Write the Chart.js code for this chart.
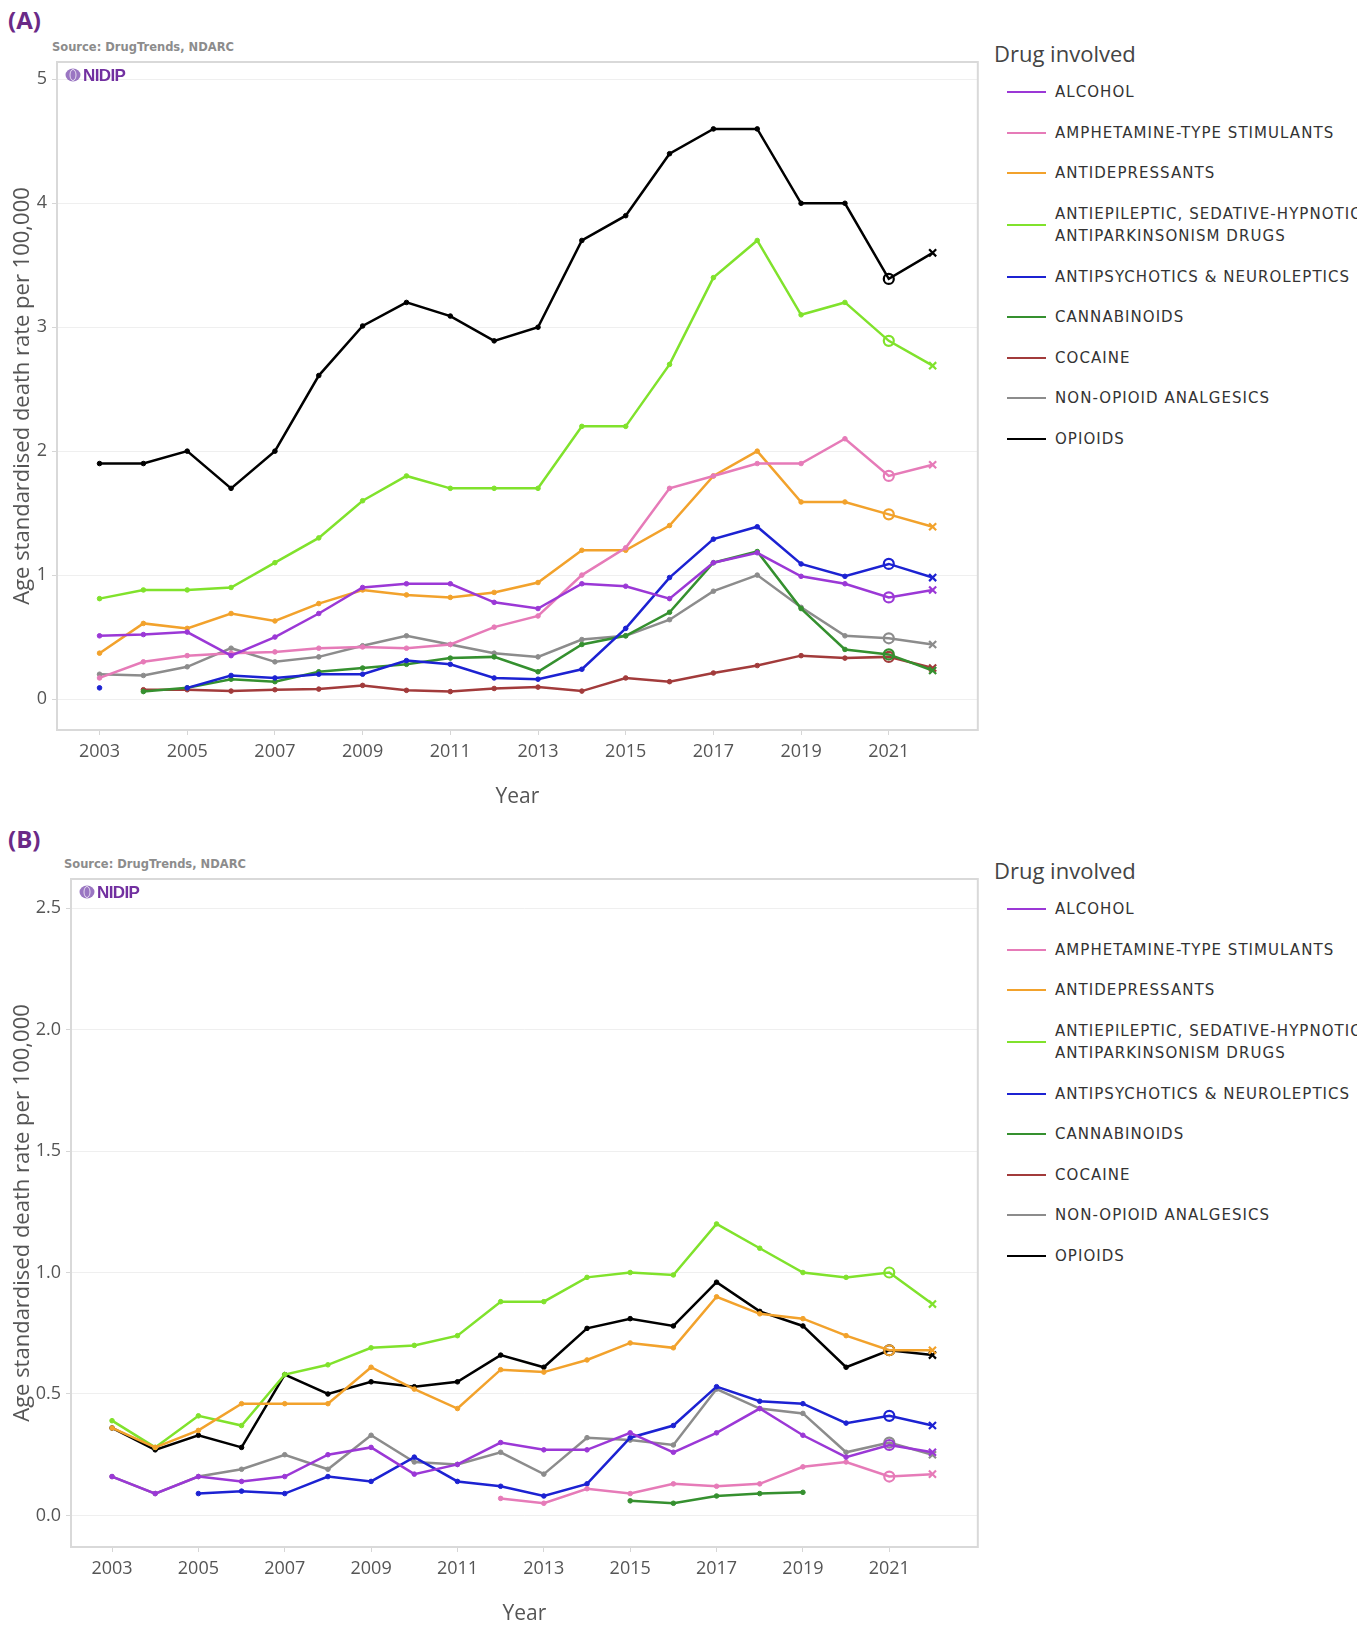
<!DOCTYPE html>
<html>
<head>
<meta charset="utf-8">
<title>Drug-induced deaths by drug involved</title>
<script src="https://cdn.jsdelivr.net/npm/chart.js@4.4.1/dist/chart.umd.min.js"></script>
<style>
  body { margin: 0; background: #fff; width: 1367px; height: 1627px; overflow: hidden; position: relative; }
  .tag { position: absolute; left: 8px; font: bold 24px 'Open Sans', sans-serif; color: #6a2a87; line-height: 30px; }
  .source { position: absolute; font: bold 11.5px 'DejaVu Sans', sans-serif; color: #8c8c8c; line-height: 16px; }
  canvas { position: absolute; left: 0; }
  .legend { position: absolute; left: 994px; width: 363px; overflow: hidden; }
  .legend .title { font: 22px 'Open Sans', sans-serif; color: #444; line-height: 30px; height: 30px; margin-bottom: 4px; }
  .legend .row { display: flex; align-items: center; height: 40.5px; white-space: nowrap; }
  .legend .row.two { height: 63px; }
  .legend .swatch { flex: none; width: 39px; height: 2px; margin-left: 13px; margin-right: 9px; }
  .legend .label { font: 15px 'DejaVu Sans', sans-serif; letter-spacing: 1.05px; color: #333; line-height: 22.5px; }
</style>
</head>
<body>
<div class="tag" style="top:5px">(A)</div>
<div class="source" style="left:52px; top:39px">Source: DrugTrends, NDARC</div>
<canvas id="chartA" width="985" height="810" style="top:0"></canvas>
<div class="legend" id="legendA" style="top:38px"></div>

<div class="tag" style="top:824px">(B)</div>
<div class="source" style="left:64px; top:856px">Source: DrugTrends, NDARC</div>
<canvas id="chartB" width="985" height="810" style="top:817px"></canvas>
<div class="legend" id="legendB" style="top:855px"></div>

<script>
// years and tick labels
const years = [2003, 2004, 2005, 2006, 2007, 2008, 2009, 2010, 2011, 2012,
               2013, 2014, 2015, 2016, 2017, 2018, 2019, 2020, 2021, 2022];
const xTicks = [2003, 2005, 2007, 2009, 2011, 2013, 2015, 2017, 2019, 2021];
const yTicksA = [0, 1, 2, 3, 4, 5];
const yTicksB = [0, 0.5, 1, 1.5, 2, 2.5];

const seriesNames = [
  'ALCOHOL',
  'AMPHETAMINE-TYPE STIMULANTS',
  'ANTIDEPRESSANTS',
  'ANTIEPILEPTIC, SEDATIVE-HYPNOTIC AND\nANTIPARKINSONISM DRUGS',
  'ANTIPSYCHOTICS & NEUROLEPTICS',
  'CANNABINOIDS',
  'COCAINE',
  'NON-OPIOID ANALGESICS',
  'OPIOIDS'
];
const seriesColours = ['#9b38d6', '#e67bb8', '#f2a22c', '#80e22c', '#1c22d2',
                       '#35902f', '#a23b3b', '#8c8c8c', '#000000'];

// panel A
const alcoholA        = [0.51, 0.52, 0.54, 0.35, 0.50, 0.69, 0.90, 0.93, 0.93, 0.78, 0.73, 0.93, 0.91, 0.81, 1.10, 1.18, 0.99, 0.93, 0.82, 0.88];
const amphetamineA    = [0.17, 0.30, 0.35, 0.37, 0.38, 0.41, 0.42, 0.41, 0.44, 0.58, 0.67, 1.00, 1.22, 1.70, 1.80, 1.90, 1.90, 2.10, 1.80, 1.89];
const antidepressantA = [0.37, 0.61, 0.57, 0.69, 0.63, 0.77, 0.88, 0.84, 0.82, 0.86, 0.94, 1.20, 1.20, 1.40, 1.80, 2.00, 1.59, 1.59, 1.49, 1.39];
const antiepilepticA  = [0.81, 0.88, 0.88, 0.90, 1.10, 1.30, 1.60, 1.80, 1.70, 1.70, 1.70, 2.20, 2.20, 2.70, 3.40, 3.70, 3.10, 3.20, 2.89, 2.69];
const antipsychoticA  = [0.09, null, 0.09, 0.19, 0.17, 0.20, 0.20, 0.31, 0.28, 0.17, 0.16, 0.24, 0.57, 0.98, 1.29, 1.39, 1.09, 0.99, 1.09, 0.98];
const cannabinoidA    = [null, 0.06, 0.09, 0.16, 0.14, 0.22, 0.25, 0.28, 0.33, 0.34, 0.22, 0.44, 0.51, 0.70, 1.10, 1.19, 0.73, 0.40, 0.36, 0.23];
const cocaineA        = [null, 0.075, 0.075, 0.064, 0.075, 0.08, 0.11, 0.07, 0.06, 0.085, 0.096, 0.064, 0.17, 0.14, 0.21, 0.27, 0.35, 0.33, 0.34, 0.25];
const nonOpioidA      = [0.20, 0.19, 0.26, 0.41, 0.30, 0.34, 0.43, 0.51, 0.44, 0.37, 0.34, 0.48, 0.51, 0.64, 0.87, 1.00, 0.74, 0.51, 0.49, 0.44];
const opioidA         = [1.90, 1.90, 2.00, 1.70, 2.00, 2.61, 3.01, 3.20, 3.09, 2.89, 3.00, 3.70, 3.90, 4.40, 4.60, 4.60, 4.00, 4.00, 3.39, 3.60];

// panel B
const alcoholB        = [0.16, 0.09, 0.16, 0.14, 0.16, 0.25, 0.28, 0.17, 0.21, 0.30, 0.27, 0.27, 0.34, 0.26, 0.34, 0.44, 0.33, 0.24, 0.29, 0.26];
const amphetamineB    = [null, null, null, null, null, null, null, null, null, 0.07, 0.05, 0.11, 0.09, 0.13, 0.12, 0.13, 0.20, 0.22, 0.16, 0.17];
const antidepressantB = [0.36, 0.28, 0.35, 0.46, 0.46, 0.46, 0.61, 0.52, 0.44, 0.60, 0.59, 0.64, 0.71, 0.69, 0.90, 0.83, 0.81, 0.74, 0.68, 0.68];
const antiepilepticB  = [0.39, 0.28, 0.41, 0.37, 0.58, 0.62, 0.69, 0.70, 0.74, 0.88, 0.88, 0.98, 1.00, 0.99, 1.20, 1.10, 1.00, 0.98, 1.00, 0.87];
const antipsychoticB  = [null, null, 0.09, 0.10, 0.09, 0.16, 0.14, 0.24, 0.14, 0.12, 0.08, 0.13, 0.32, 0.37, 0.53, 0.47, 0.46, 0.38, 0.41, 0.37];
const cannabinoidB    = [null, null, null, null, null, null, null, null, null, null, null, null, 0.06, 0.05, 0.08, 0.09, 0.095, null, null, null];
const cocaineB        = [null, null, null, null, null, null, null, null, null, null, null, null, null, null, null, null, null, null, null, null];
const nonOpioidB      = [0.16, 0.09, 0.16, 0.19, 0.25, 0.19, 0.33, 0.22, 0.21, 0.26, 0.17, 0.32, 0.31, 0.29, 0.52, 0.44, 0.42, 0.26, 0.30, 0.25];
const opioidB         = [0.36, 0.27, 0.33, 0.28, 0.58, 0.50, 0.55, 0.53, 0.55, 0.66, 0.61, 0.77, 0.81, 0.78, 0.96, 0.84, 0.78, 0.61, 0.68, 0.66];

const idxCircle = years.indexOf(2021);
const idxCross = years.indexOf(2022);

// plot frame + NIDIP logo
const framePlugin = {
  id: 'frame',
  beforeDatasetsDraw(chart) {
    const { ctx, chartArea: a } = chart;
    ctx.save();
    ctx.strokeStyle = '#d9d9d9';
    ctx.lineWidth = 2;
    ctx.strokeRect(a.left, a.top, a.right - a.left, a.bottom - a.top);
    ctx.restore();
  },
  afterDatasetsDraw(chart) {
    const { ctx, chartArea: a } = chart;
    const cx = a.left + 16, cy = a.top + 13;
    ctx.save();
    ctx.fillStyle = '#9a76c2';
    ctx.beginPath();
    ctx.ellipse(cx, cy, 7.5, 6.5, 0, 0, Math.PI * 2);
    ctx.fill();
    ctx.strokeStyle = '#e6dcf0';
    ctx.lineWidth = 1;
    ctx.beginPath();
    ctx.ellipse(cx, cy, 3, 5.5, 0, 0, Math.PI * 2);
    ctx.stroke();
    ctx.fillStyle = '#7230a0';
    ctx.font = 'bold 17px "Liberation Sans"';
    ctx.textBaseline = 'middle';
    ctx.letterSpacing = '-0.6px';
    ctx.fillText('NIDIP', cx + 10, cy + 1);
    ctx.restore();
  }
};

function makeDatasets(values) {
  return seriesNames.map((name, i) => ({
    label: name,
    data: years.map((yr, k) => ({ x: yr, y: values[i][k] })),
    borderColor: seriesColours[i],
    backgroundColor: seriesColours[i],
    borderWidth: 2.5,
    tension: 0,
    spanGaps: false,
    pointStyle: ctx => ctx.dataIndex === idxCross ? 'crossRot' : 'circle',
    pointRadius: ctx => (ctx.dataIndex === idxCircle || ctx.dataIndex === idxCross) ? 5 : 2.3,
    pointBorderWidth: ctx => (ctx.dataIndex === idxCircle || ctx.dataIndex === idxCross) ? 2.2 : 1,
    pointBackgroundColor: ctx => ctx.dataIndex === idxCircle ? 'rgba(255,255,255,0)' : seriesColours[i],
    pointBorderColor: seriesColours[i]
  }));
}

function makeChart(id, values, yTicks, yMin, yMax, xMin, xMax, yAxisWidth, decimals) {
  return new Chart(document.getElementById(id), {
    type: 'line',
    data: { datasets: makeDatasets(values) },
    options: {
      responsive: false,
      animation: false,
      layout: { padding: { top: 62, right: 7, left: 0, bottom: 0 } },
      plugins: { legend: { display: false }, tooltip: { enabled: false } },
      scales: {
        x: {
          type: 'linear',
          min: xMin,
          max: xMax,
          afterBuildTicks: s => { s.ticks = xTicks.map(v => ({ value: v })); },
          afterFit: s => { s.height = 80; },
          grid: { drawOnChartArea: false, drawTicks: true, tickLength: 5, tickColor: '#d6d6d6' },
          border: { display: false },
          ticks: { padding: 6, color: '#555', font: { family: 'Open Sans', size: 18 }, callback: v => String(v) },
          title: { display: true, text: 'Year', color: '#555', font: { family: 'Open Sans', size: 21 }, padding: { top: 0, bottom: 0.5 } }
        },
        y: {
          min: yMin,
          max: yMax,
          afterBuildTicks: s => { s.ticks = yTicks.map(v => ({ value: v })); },
          afterFit: s => { s.width = yAxisWidth; },
          grid: { color: '#efefef', tickLength: 5, tickColor: '#d6d6d6' },
          border: { display: false },
          ticks: { padding: 5, color: '#555', font: { family: 'Open Sans', size: 18 }, callback: v => v.toFixed(decimals) },
          title: { display: true, text: 'Age standardised death rate per 100,000', color: '#555', font: { family: 'Open Sans', size: 22 }, padding: { top: 10, bottom: 0 } }
        }
      }
    },
    plugins: [framePlugin]
  });
}

function makeLegend(id) {
  const box = document.getElementById(id);
  const title = document.createElement('div');
  title.className = 'title';
  title.textContent = 'Drug involved';
  box.appendChild(title);
  seriesNames.forEach((name, i) => {
    const lines = name.split('\n');
    const row = document.createElement('div');
    row.className = lines.length > 1 ? 'row two' : 'row';
    const sw = document.createElement('span');
    sw.className = 'swatch';
    sw.style.background = seriesColours[i];
    const lab = document.createElement('span');
    lab.className = 'label';
    lines.forEach((ln, j) => {
      if (j > 0) lab.appendChild(document.createElement('br'));
      lab.appendChild(document.createTextNode(ln));
    });
    row.appendChild(sw);
    row.appendChild(lab);
    box.appendChild(row);
  });
}

makeChart('chartA',
  [alcoholA, amphetamineA, antidepressantA, antiepilepticA, antipsychoticA, cannabinoidA, cocaineA, nonOpioidA, opioidA],
  yTicksA, -0.25, 5.14, 2002.03, 2023.03, 57, 0);
makeChart('chartB',
  [alcoholB, amphetamineB, antidepressantB, antiepilepticB, antipsychoticB, cannabinoidB, cocaineB, nonOpioidB, opioidB],
  yTicksB, -0.13, 2.62, 2002.05, 2023.05, 71, 1);
makeLegend('legendA');
makeLegend('legendB');
</script>
</body>
</html>
